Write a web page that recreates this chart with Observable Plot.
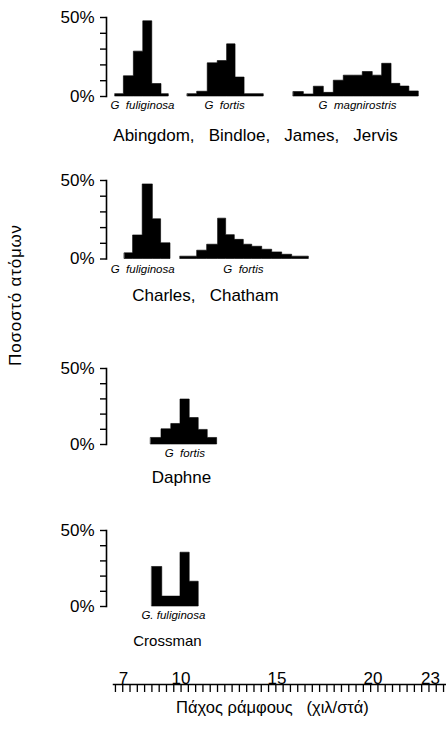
<!DOCTYPE html>
<html><head><meta charset="utf-8">
<script src="https://cdn.jsdelivr.net/npm/d3@7"></script>
<script src="https://cdn.jsdelivr.net/npm/@observablehq/plot@0.6"></script>
<style>
body{margin:0;background:#fff;}
#chart{position:relative;width:446px;height:731px;font-family:"Liberation Sans",Arial,sans-serif;color:#000;}
#chart svg{position:absolute;left:0;overflow:visible;}
#ytitle{position:absolute;left:16px;top:295px;transform:translate(-50%,-50%) rotate(-90deg);font-size:17px;white-space:nowrap;letter-spacing:0.8px;}
</style></head><body>
<div id="chart"><div id="ytitle">Ποσοστό ατόμων</div></div>
<script>
// ---- data: bin edges (mm) and percentage of individuals ----
const abFuligEdges = [6.58, 7.02, 7.54, 8.03, 8.5, 8.98, 9.36];
const abFuligPct   = [1.5, 12.8, 28.4, 47.6, 7.9, 1.5];
const abFortisEdges = [10.35, 10.84, 11.39, 11.91, 12.4, 12.84, 13.31, 14.31];
const abFortisPct   = [1.5, 3, 21, 22.4, 33, 12, 1.5];
const abMagniEdges = [15.87, 16.4, 16.92, 17.44, 17.96, 18.48, 19.0, 19.47, 19.99, 20.48, 20.97, 21.43, 21.9, 22.39];
const abMagniPct   = [2.8, 1.3, 6.2, 2.3, 10, 13.2, 13.2, 15.5, 13.2, 20.7, 8, 6.3, 3.2];

const chFuligEdges = [7.07, 7.5, 8.0, 8.53, 8.96, 9.45];
const chFuligPct   = [3.6, 15, 47.5, 25.3, 10];
const chFortisEdges = [9.97, 10.84, 11.36, 11.93, 12.35, 12.8, 13.27, 13.71, 14.23, 14.75, 15.27, 15.79, 16.66];
const chFortisPct   = [1.5, 5.3, 9.1, 25.7, 15.2, 12.2, 9.1, 7.8, 5.9, 4.2, 2.7, 1.5];

const daFortisEdges = [8.44, 8.98, 9.49, 9.97, 10.45, 10.92, 11.39, 11.88];
const daFortisPct   = [4.3, 10, 13.5, 29.6, 17.4, 9.6, 4.3];

const crFuligEdges = [8.5, 9.02, 9.5, 9.97, 10.45, 10.92];
const crFuligPct   = [26, 6.5, 6.5, 35.4, 16.3];

const yTicks = [0, 10, 20, 30, 40, 50];
const xTickLabels = [7, 10, 15, 20, 23];
const islandNames = ["Abingdom,\u00A0\u00A0\u00A0Bindloe,\u00A0\u00A0\u00A0James,\u00A0\u00A0\u00A0Jervis", "Charles,\u00A0\u00A0\u00A0Chatham", "Daphne", "Crossman"];
const xTitle = "Πάχος ράμφους\u00A0\u00A0\u00A0(χιλ/στά)";

// step outline: one point per edge, last edge repeats the last value
function steps(edges, pct) {
  return edges.map((e, i) => ({x: e, y: pct[Math.min(i, pct.length - 1)]}));
}

const panels = [
  {series: [steps(abFuligEdges, abFuligPct), steps(abFortisEdges, abFortisPct), steps(abMagniEdges, abMagniPct)],
   species: [{x: 7.99, t: "G\u00A0 fuliginosa"}, {x: 12.27, t: "G\u00A0 fortis"}, {x: 19.2, t: "G\u00A0 magnirostris"}],
   island: islandNames[0], ix: 13.88, isz: 17,
   top: 0, h: 160, y50: 17, y0: 96, sdy: 12, idy: 44},
  {series: [steps(chFuligEdges, chFuligPct), steps(chFortisEdges, chFortisPct)],
   species: [{x: 8.0, t: "G\u00A0 fuliginosa"}, {x: 13.25, t: "G\u00A0 fortis"}],
   island: islandNames[1], ix: 11.27, isz: 17,
   top: 160, h: 160, y50: 180, y0: 258.5, sdy: 13.5, idy: 41.5},
  {series: [steps(daFortisEdges, daFortisPct)],
   species: [{x: 10.2, t: "G\u00A0 fortis"}],
   island: islandNames[2], ix: 10.02, isz: 17,
   top: 340, h: 160, y50: 368, y0: 444, sdy: 12, idy: 38},
  {series: [steps(crFuligEdges, crFuligPct)],
   species: [{x: 9.6, t: "G.\u00A0fuliginosa"}],
   island: islandNames[3], ix: 9.29, isz: 15,
   top: 510, h: 145, y50: 530, y0: 606, sdy: 12, idy: 39}
];

const chart = document.getElementById("chart");
const font = '"Liberation Sans", Arial, sans-serif';

for (const p of panels) {
  const svg = Plot.plot({
    width: 446, height: p.h,
    marginLeft: 106, marginRight: 0,
    marginTop: p.y50 - p.top, marginBottom: p.top + p.h - p.y0,
    x: {domain: [7, 23], range: [123, 430], axis: null},
    y: {domain: [0, 50], axis: null},
    style: {fontFamily: font, color: "black", background: "transparent", overflow: "visible"},
    marks: [
      ...p.series.map(s => Plot.areaY(s, {x: "x", y: "y", curve: "step-after", fill: "black", stroke: "black", strokeWidth: 0.6})),
      Plot.frame({anchor: "left", stroke: "black", strokeWidth: 1.6}),
      Plot.axisY({ticks: yTicks, tickSize: 6, tickPadding: 6, strokeWidth: 1.4, fontSize: 17, label: null,
                  tickFormat: d => (d === 0 || d === 50) ? d + "%" : ""}),
      Plot.text(p.species, {x: "x", text: "t", frameAnchor: "bottom", dy: p.sdy, fontStyle: "italic", fontSize: 11.5}),
      Plot.text([p.island], {x: () => p.ix, text: d => d, frameAnchor: "bottom", dy: p.idy, fontSize: p.isz})
    ]
  });
  svg.style.top = p.top + "px";
  chart.appendChild(svg);
}

// x axis
const minorTicks = d3.range(6.58, 23.8, 0.38);
const axisSvg = Plot.plot({
  width: 446, height: 76,
  marginLeft: 113, marginRight: 0, marginTop: 29, marginBottom: 39,
  x: {domain: [7, 23], range: [123, 430], axis: null},
  style: {fontFamily: font, color: "black", background: "transparent", overflow: "visible"},
  marks: [
    Plot.frame({anchor: "top", stroke: "black", strokeWidth: 1.5}),
    Plot.tickX(minorTicks, {x: d => d, stroke: "black", strokeWidth: 1.3}),
    Plot.text(xTickLabels, {x: d => d, text: d => String(d), frameAnchor: "top", dy: -13, fontSize: 17}),
    Plot.text([xTitle], {x: () => 14.76, text: d => d, frameAnchor: "bottom", dy: 20, fontSize: 16.5})
  ]
});
axisSvg.style.top = "655px";
chart.appendChild(axisSvg);
</script>
</body></html>
